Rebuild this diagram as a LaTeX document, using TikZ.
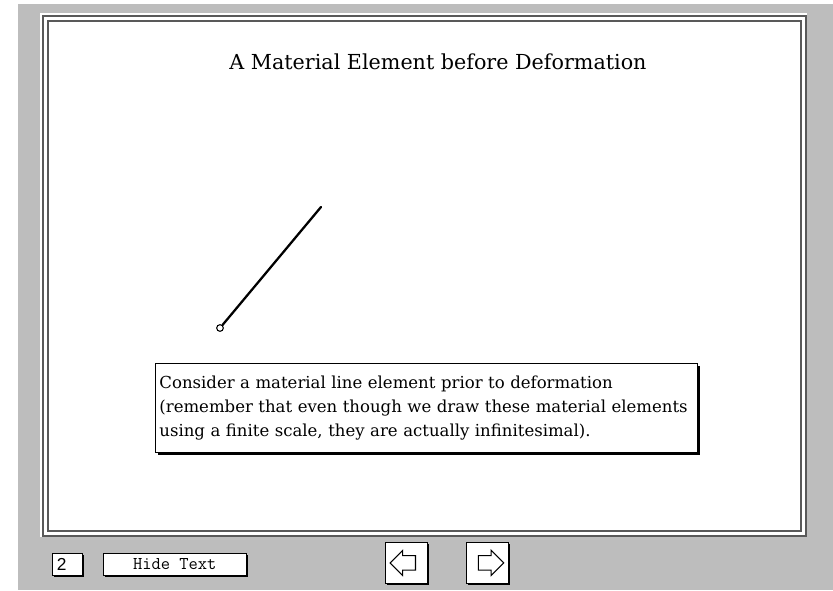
\documentclass[tikz,border=0pt]{standalone}
\usepackage{fontspec}
\setmainfont{DejaVu Serif}
\newfontfamily\numfont{Liberation Sans}
\usetikzlibrary{positioning, shapes.arrows, shadows}
\definecolor{slbg}{gray}{0.74}
\definecolor{slframe}{gray}{0.35}

\begin{document}
\begin{tikzpicture}[
    x=0.75pt, y=-0.75pt,
    frameline/.style={draw=slframe, line width=1.5pt},
    btnbox/.style={rectangle, draw=black, fill=white, line width=0.6pt, inner sep=0pt,
                   minimum height=16.5pt,
                   drop shadow={fill=black, opacity=1, shadow xshift=1.2pt, shadow yshift=-1.2pt}},
    navbox/.style={btnbox, minimum width=31.5pt, minimum height=30.75pt},
    navarrow/.style={single arrow, draw=black, fill=white, line width=0.8pt,
                     minimum height=19pt, inner xsep=0pt, inner ysep=5pt,
                     single arrow head extend=4pt},
    notebox/.style={rectangle, draw=black, fill=white, line width=0.6pt, align=left,
                    text width=400.5pt, inner xsep=3pt, minimum height=66.5pt,
                    font=\fontsize{12.4}{18}\selectfont,
                    drop shadow={fill=black, opacity=1, shadow xshift=2pt, shadow yshift=-2pt}},
    element/.style={line width=1.7pt, line cap=round}
  ]
    \useasboundingbox (0,0) rectangle (833,590);
    % background and slide frame
    \fill[slbg] (18,4) rectangle (833,590);
    \fill[white] (40,13) rectangle (807,537);
    \draw[frameline] (43,16) rectangle (806,536);
    \draw[frameline] (48,21) rectangle (801,531);

    \node[font=\fontsize{15.5}{18}\selectfont] (title) at (438,62) {A Material Element before Deformation};

    % the material line element
    \node[circle, draw=black, fill=white, line width=0.8pt, inner sep=0pt, minimum size=5pt] (p0) at (220,328) {};
    \coordinate (p1) at (321,207);
    \draw[element] (p0) -- (p1);

    \node[notebox, anchor=north west] (note) at (155,363)
      {Consider a material line element prior to deformation\\
       (remember that even though we draw these material elements\\
       using a finite scale, they are actually infinitesimal).};

    % controls
    \node[btnbox, minimum width=22.5pt, anchor=north west, font=\numfont\fontsize{13}{14}\selectfont,
          text width=20pt, align=left] (page) at (52,553) {\,2};
    \node[btnbox, minimum width=107pt, anchor=north west, font=\ttfamily\fontsize{13.5}{14}\selectfont] (hide) at (103,553) {Hide Text};
    \node[navbox, anchor=north west] (prev) at (385,542) {};
    \node[navbox, anchor=north west] (next) at (466,542) {};
    \node[navarrow, shape border rotate=180] (prevarrow) at (prev.center) {};
    \node[navarrow] (nextarrow) at (next.center) {};
\end{tikzpicture}
\end{document}
